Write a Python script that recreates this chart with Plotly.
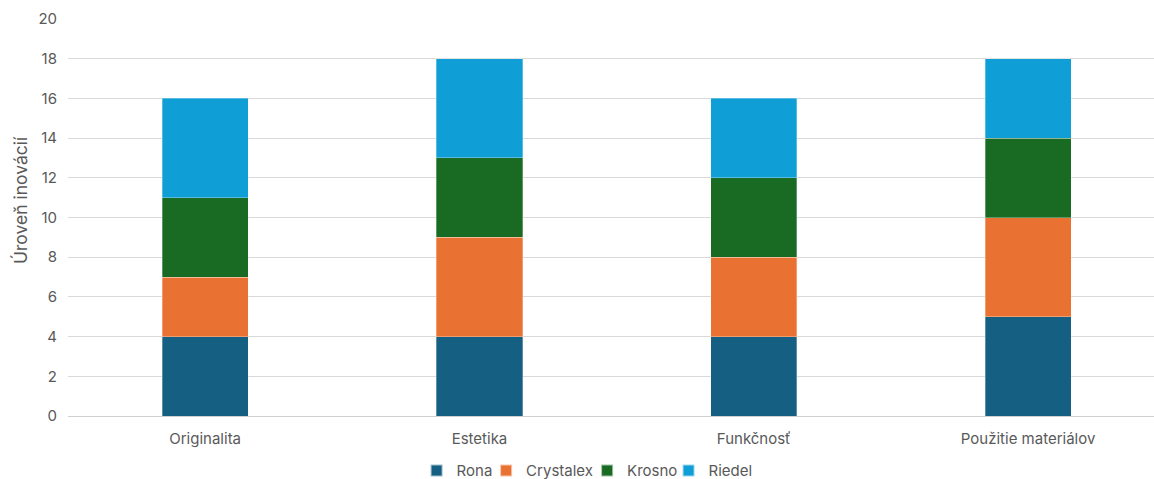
import plotly.graph_objects as go

categories = ["Originalita", "Estetika", "Funkčnosť", "Použitie materiálov"]
rona = [4, 4, 4, 5]
crystalex = [3, 5, 4, 5]
krosno = [4, 4, 4, 4]
riedel = [5, 5, 4, 4]
y_ticks = [0, 2, 4, 6, 8, 10, 12, 14, 16, 18, 20]

series = [
    ("Rona", rona, "#156082"),
    ("Crystalex", crystalex, "#E97132"),
    ("Krosno", krosno, "#196B24"),
    ("Riedel", riedel, "#0F9ED5"),
]
# legend entry positions (paper x of each entry's left edge)
legend_x = [0.321, 0.385, 0.478, 0.553]

font_family = "Inter, Open Sans, Arial, sans-serif"
fig = go.Figure()
legend_layouts = {}
for i, (name, vals, col) in enumerate(series):
    lg = "legend" if i == 0 else f"legend{i+1}"
    fig.add_trace(go.Bar(
        x=categories, y=vals, name=name, legend=lg, showlegend=True,
        marker=dict(color=col, line=dict(color="rgba(255,255,255,0.6)", width=0.5)),
        width=0.314,
    ))
    legend_layouts[lg] = dict(
        orientation="h", x=legend_x[i], xanchor="left",
        yref="container", y=0.017, yanchor="middle",
        font=dict(size=15, color="#595959"), itemsizing="constant",
        itemwidth=30, bgcolor="rgba(0,0,0,0)",
    )

fig.update_layout(
    barmode="stack",
    showlegend=True,
    width=1154, height=479,
    margin=dict(l=68, r=0, t=19, b=63, autoexpand=False),
    paper_bgcolor="white", plot_bgcolor="white",
    font=dict(family=font_family, size=15, color="#595959"),
    xaxis=dict(
        range=[-0.5, 3.459], showgrid=False, showline=False, ticks="",
        tickfont=dict(size=15, color="#595959"), ticklabelstandoff=12,
        automargin=False,
    ),
    yaxis=dict(
        range=[0, 20], tickvals=y_ticks, showgrid=True, gridcolor="#D9D9D9",
        gridwidth=1, zeroline=True, zerolinecolor="#D0D0D0", zerolinewidth=1,
        tickfont=dict(size=15, color="#595959"), ticks="", ticklen=0,
        ticklabelstandoff=10, automargin=False,
    ),
    annotations=[dict(
        text="Úroveň inovácií", textangle=-90, showarrow=False,
        xref="paper", yref="paper", x=-0.0442, y=0.544,
        xanchor="center", yanchor="middle",
        font=dict(size=17.5, color="#595959"),
    )],
    **legend_layouts,
)

fig.write_html("out.html")
